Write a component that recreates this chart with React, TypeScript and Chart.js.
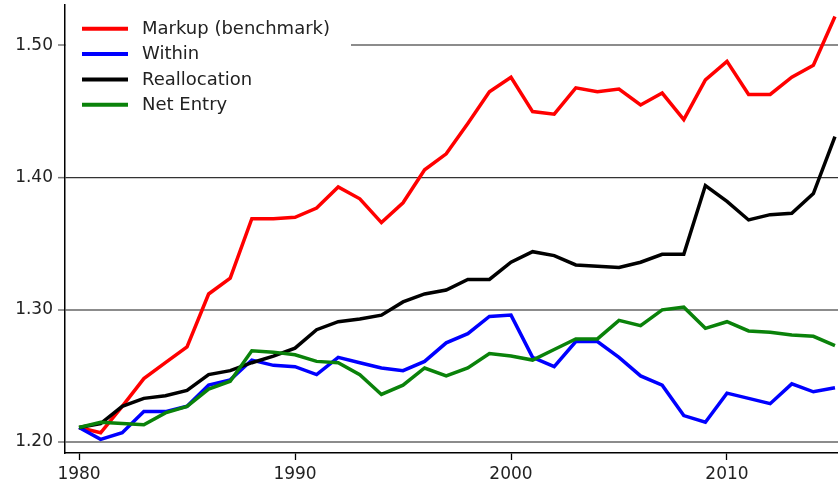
import React, { useEffect, useRef } from "react";
import { Chart, registerables } from "chart.js";

Chart.register(...registerables);

const years: number[] = [];
for (let y = 1980; y <= 2015; y++) years.push(y);

const markup = [1.211, 1.207, 1.227, 1.248, 1.260, 1.272, 1.312, 1.324, 1.369, 1.369, 1.370, 1.377, 1.393, 1.384, 1.366, 1.381, 1.406, 1.418, 1.441, 1.465, 1.476, 1.450, 1.448, 1.468, 1.465, 1.467, 1.455, 1.464, 1.444, 1.474, 1.488, 1.463, 1.463, 1.476, 1.485, 1.522];
const within = [1.211, 1.202, 1.207, 1.223, 1.223, 1.227, 1.243, 1.247, 1.262, 1.258, 1.257, 1.251, 1.264, 1.260, 1.256, 1.254, 1.261, 1.275, 1.282, 1.295, 1.296, 1.264, 1.257, 1.276, 1.276, 1.264, 1.250, 1.243, 1.220, 1.215, 1.237, 1.233, 1.229, 1.244, 1.238, 1.241];
const reallocation = [1.211, 1.214, 1.227, 1.233, 1.235, 1.239, 1.251, 1.254, 1.260, 1.265, 1.271, 1.285, 1.291, 1.293, 1.296, 1.306, 1.312, 1.315, 1.323, 1.323, 1.336, 1.344, 1.341, 1.334, 1.333, 1.332, 1.336, 1.342, 1.342, 1.394, 1.382, 1.368, 1.372, 1.373, 1.388, 1.431];
const netEntry = [1.211, 1.215, 1.214, 1.213, 1.222, 1.227, 1.240, 1.246, 1.269, 1.268, 1.266, 1.261, 1.260, 1.251, 1.236, 1.243, 1.256, 1.250, 1.256, 1.267, 1.265, 1.262, 1.270, 1.278, 1.278, 1.292, 1.288, 1.300, 1.302, 1.286, 1.291, 1.284, 1.283, 1.281, 1.280, 1.273];

const seriesLabels = ["Markup (benchmark)", "Within", "Reallocation", "Net Entry"];
const seriesColors = ["#ff0000", "#0000ff", "#000000", "#0a820a"];
const yTicks = [1.2, 1.3, 1.4, 1.5];
const xTicks = [1980, 1990, 2000, 2010];

const FONT = "'DejaVu Sans', 'Liberation Sans', Arial, sans-serif";

export default function App() {
  const ref = useRef<HTMLCanvasElement | null>(null);

  useEffect(() => {
    const canvas = ref.current;
    if (!canvas) return;
    const series = [markup, within, reallocation, netEntry];

    const legendPlugin = {
      id: "customLegend",
      beforeDatasetsDraw(chart: any) {
        const ctx = chart.ctx;
        const area = chart.chartArea;
        ctx.save();
        ctx.fillStyle = "#ffffff";
        ctx.fillRect(area.left + 1, 12, 351 - area.left - 1, 106);
        chart.data.datasets.forEach((ds: any, i: number) => {
          const y = 28.8 + i * 25.3;
          ctx.strokeStyle = ds.borderColor;
          ctx.lineWidth = 4;
          ctx.lineCap = "butt";
          ctx.beginPath();
          ctx.moveTo(82, y);
          ctx.lineTo(128, y);
          ctx.stroke();
          ctx.fillStyle = "#222222";
          ctx.font = `18px ${FONT}`;
          ctx.textBaseline = "middle";
          ctx.textAlign = "left";
          ctx.fillText(ds.label, 142, y + 0.5);
        });
        ctx.restore();
      },
    };

    const chart = new Chart(canvas, {
      type: "line",
      data: {
        datasets: series.map((s, i) => ({
          label: seriesLabels[i],
          data: s.map((v, j) => ({ x: years[j], y: v })),
          borderColor: seriesColors[i],
          backgroundColor: seriesColors[i],
          borderWidth: 3.5,
          pointRadius: 0,
          tension: 0,
          fill: false,
          order: 3 - i,
        })),
      },
      options: {
        animation: false,
        responsive: false,
        maintainAspectRatio: false,
        layout: { padding: { top: 5, right: 0, left: 0, bottom: 0 } },
        plugins: {
          legend: { display: false },
          tooltip: { enabled: false },
        },
        scales: {
          x: {
            type: "linear",
            min: 1979.35,
            max: 2015.14,
            afterBuildTicks(scale: any) {
              scale.ticks = xTicks.map((v) => ({ value: v }));
            },
            afterFit(scale: any) {
              scale.height = 30;
              scale.paddingLeft = 0;
              scale.paddingRight = 0;
            },
            border: { display: true, color: "#000000", width: 1.5 },
            grid: {
              display: true,
              drawOnChartArea: false,
              drawTicks: true,
              tickLength: 7,
              tickColor: "#000000",
              tickWidth: 1.3,
            },
            ticks: {
              padding: 4,
              maxRotation: 0,
              autoSkip: false,
              color: "#222222",
              font: { family: FONT, size: 17 },
              callback: (v: any) => String(v),
            },
          },
          y: {
            type: "linear",
            min: 1.19168,
            max: 1.53064,
            afterBuildTicks(scale: any) {
              scale.ticks = yTicks.map((v) => ({ value: v }));
            },
            afterFit(scale: any) {
              scale.width = 65;
              scale.paddingTop = 0;
              scale.paddingBottom = 0;
            },
            border: { display: true, color: "#000000", width: 1.5 },
            grid: {
              display: true,
              drawOnChartArea: true,
              drawTicks: true,
              tickLength: 7,
              tickColor: "#777777",
              tickWidth: 1.5,
              color: (c: any) => (c.tick && Math.abs(c.tick.value - 1.4) < 1e-6 ? "#333333" : "#8c8c8c"),
              lineWidth: (c: any) => (c.tick && Math.abs(c.tick.value - 1.4) < 1e-6 ? 1.3 : 2),
            },
            ticks: {
              padding: 5,
              autoSkip: false,
              color: "#222222",
              font: { family: FONT, size: 17 },
              callback: (v: any) => Number(v).toFixed(2),
            },
          },
        },
      },
      plugins: [legendPlugin],
    });

    return () => chart.destroy();
  }, []);

  return (
    <div style={{ position: "fixed", left: 0, top: 0, width: 838, height: 483, background: "#ffffff" }}>
      <canvas ref={ref} width={838} height={483} style={{ display: "block", width: 838, height: 483 }} />
    </div>
  );
}
